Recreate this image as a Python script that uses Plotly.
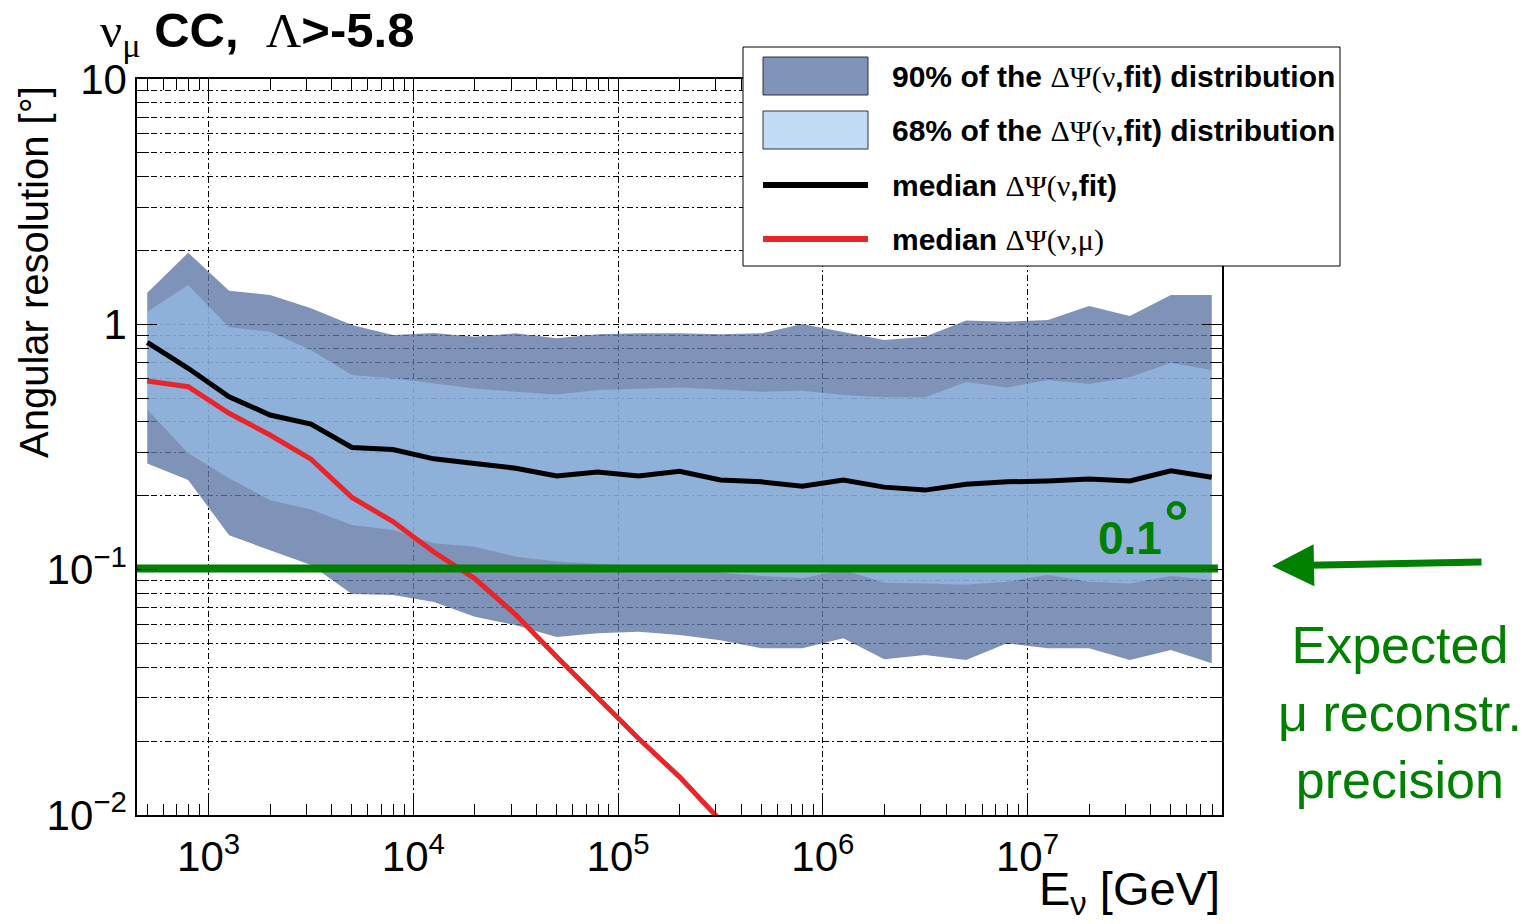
import plotly.graph_objects as go

# ---------------- data ----------------
log_energy = [2.7, 2.9, 3.1, 3.3, 3.5, 3.7, 3.9, 4.1, 4.3, 4.5, 4.7, 4.9, 5.1, 5.3,
              5.5, 5.7, 5.9, 6.1, 6.3, 6.5, 6.7, 6.9, 7.1, 7.3, 7.5, 7.7, 7.9]

upper90 = [1.345, 1.958, 1.371, 1.316, 1.162, 0.993, 0.905, 0.922, 0.890, 0.919, 0.877,
           0.911, 0.919, 0.919, 0.911, 0.919, 1.003, 0.933, 0.863, 0.890, 1.036, 1.025,
           1.041, 1.187, 1.081, 1.316, 1.316]
upper68 = [1.126, 1.446, 0.972, 0.933, 0.786, 0.621, 0.603, 0.576, 0.548, 0.531, 0.518,
           0.540, 0.548, 0.553, 0.543, 0.531, 0.536, 0.515, 0.504, 0.504, 0.582, 0.553,
           0.593, 0.571, 0.608, 0.697, 0.651]
median_fit = [0.845, 0.662, 0.507, 0.427, 0.392, 0.315, 0.309, 0.283, 0.271, 0.259, 0.241,
              0.250, 0.241, 0.252, 0.232, 0.228, 0.219, 0.232, 0.217, 0.211, 0.223, 0.228,
              0.230, 0.234, 0.230, 0.253, 0.238]
lower68 = [0.450, 0.298, 0.236, 0.192, 0.176, 0.152, 0.145, 0.128, 0.124, 0.113, 0.108,
           0.1054, 0.1034, 0.1015, 0.0971, 0.0942, 0.0922, 0.0996, 0.0884, 0.0879, 0.0869,
           0.0893, 0.0951, 0.0893, 0.0879, 0.0942, 0.0907]
lower90 = [0.271, 0.232, 0.138, 0.120, 0.1044, 0.0795, 0.0788, 0.0738, 0.0643, 0.0594,
           0.0532, 0.0550, 0.0558, 0.0541, 0.0516, 0.0478, 0.0478, 0.0525, 0.0431, 0.0449,
           0.0428, 0.0501, 0.0478, 0.0478, 0.0428, 0.0470, 0.0415]
median_mu = [0.587, 0.557, 0.434, 0.354, 0.282, 0.197, 0.157, 0.118, 0.092, 0.0655,
             0.0442, 0.0302, 0.0205, 0.0143, 0.0095]

precision_level = 0.101            # expected muon reconstruction precision [deg]
precision_span_log = [2.64, 7.93]  # horizontal extent of the green reference line

x_tick_vals = [1e3, 1e4, 1e5, 1e6, 1e7]
x_tick_text = ["10<sup>3</sup>", "10<sup>4</sup>", "10<sup>5</sup>", "10<sup>6</sup>", "10<sup>7</sup>"]
y_tick_vals = [0.01, 0.1, 1, 10]
y_tick_text = ["10<sup>\u22122</sup>", "10<sup>\u22121</sup>", "1", "10"]

legend_labels = [
    "<b>90% of the </b><span style=\"font-family:'Liberation Serif'\">\u0394\u03a8(\u03bd</span><b>,fit) distribution</b>",
    "<b>68% of the </b><span style=\"font-family:'Liberation Serif'\">\u0394\u03a8(\u03bd</span><b>,fit) distribution</b>",
    "<b>median </b><span style=\"font-family:'Liberation Serif'\">\u0394\u03a8(\u03bd</span><b>,fit)</b>",
    "<b>median </b><span style=\"font-family:'Liberation Serif'\">\u0394\u03a8(\u03bd,\u03bc)</span>",
]

# ---------------- styling ----------------
energy = [10 ** v for v in log_energy]
DARK = "rgba(95,120,166,0.8)"
LIGHT = "rgba(154,195,237,0.6)"
GREEN = "#008000"
RED = "#e8262a"
SANS = "Liberation Sans"
GRIDDASH = "6px,3px,2px,3px"

W, H = 1539, 924
L, R, T, B = 137, 1222, 79, 815


def px(xp):
    return (xp - L) / (R - L)


def py(yp):
    return (B - yp) / (B - T)


fig = go.Figure()
fig.add_trace(go.Scatter(x=energy, y=lower90, mode="lines", line=dict(width=0),
                         showlegend=False, hoverinfo="skip"))
fig.add_trace(go.Scatter(x=energy, y=upper90, mode="lines", line=dict(width=0),
                         fill="tonexty", fillcolor=DARK, showlegend=False))
fig.add_trace(go.Scatter(x=energy, y=lower68, mode="lines", line=dict(width=0),
                         showlegend=False, hoverinfo="skip"))
fig.add_trace(go.Scatter(x=energy, y=upper68, mode="lines", line=dict(width=0),
                         fill="tonexty", fillcolor=LIGHT, showlegend=False))
fig.add_trace(go.Scatter(x=energy, y=median_fit, mode="lines",
                         line=dict(color="black", width=5), showlegend=False))
fig.add_trace(go.Scatter(x=energy[:len(median_mu)], y=median_mu, mode="lines",
                         line=dict(color=RED, width=5), showlegend=False))
fig.add_trace(go.Scatter(x=[10 ** v for v in precision_span_log],
                         y=[precision_level, precision_level], mode="lines",
                         line=dict(color=GREEN, width=8), showlegend=False))

x_minor = [m * 10 ** d for d in range(2, 8) for m in range(2, 10)]
y_minor = [m * 10.0 ** d for d in (-2, -1, 0) for m in range(2, 10)]

fig.update_xaxes(
    type="log", range=[2.65, 7.95],
    tickvals=x_tick_vals, ticktext=x_tick_text,
    ticks="inside", ticklen=22, tickwidth=1, tickcolor="black",
    showline=True, linecolor="black", linewidth=1.5, mirror="ticks",
    showgrid=True, gridcolor="black", gridwidth=1, griddash=GRIDDASH,
    minor=dict(tickvals=x_minor, ticks="inside", ticklen=11, tickwidth=1,
               tickcolor="black", showgrid=False),
    tickfont=dict(family=SANS, size=42, color="black"),
    ticklabelstandoff=4, zeroline=False,
)
fig.update_yaxes(
    type="log", range=[-2, 1],
    tickvals=y_tick_vals, ticktext=y_tick_text,
    ticks="inside", ticklen=20, tickwidth=1, tickcolor="black",
    showline=True, linecolor="black", linewidth=1.5, mirror="ticks",
    showgrid=True, gridcolor="black", gridwidth=1, griddash=GRIDDASH,
    minor=dict(tickvals=y_minor, ticks="inside", ticklen=12, tickwidth=1,
               tickcolor="black", showgrid=True, gridcolor="black",
               gridwidth=1, griddash=GRIDDASH),
    tickfont=dict(family=SANS, size=42, color="black"),
    ticklabelstandoff=0, zeroline=False,
)

shapes = []
annotations = []

# legend box (layout decoration)
shapes.append(dict(type="rect", xref="paper", yref="paper",
                   x0=px(743), x1=px(1340), y0=py(266), y1=py(47),
                   fillcolor="white", line=dict(color="black", width=1), layer="above"))
shapes.append(dict(type="rect", xref="paper", yref="paper",
                   x0=px(763), x1=px(868), y0=py(95), y1=py(57),
                   fillcolor=DARK, line=dict(color="#333", width=1), layer="above"))
shapes.append(dict(type="rect", xref="paper", yref="paper",
                   x0=px(763), x1=px(868), y0=py(149), y1=py(111),
                   fillcolor=LIGHT, line=dict(color="#333", width=1), layer="above"))
shapes.append(dict(type="line", xref="paper", yref="paper",
                   x0=px(763), x1=px(868), y0=py(185), y1=py(185),
                   line=dict(color="black", width=6), layer="above"))
shapes.append(dict(type="line", xref="paper", yref="paper",
                   x0=px(763), x1=px(868), y0=py(239), y1=py(239),
                   line=dict(color=RED, width=6), layer="above"))
for lab, yc in zip(legend_labels, [77, 131, 186, 240]):
    annotations.append(dict(text=lab, xref="paper", yref="paper", x=px(890), y=py(yc),
                            xanchor="left", yanchor="middle", showarrow=False,
                            font=dict(family=SANS, size=30, color="black")))

# title
annotations.append(dict(
    text="<span style=\"font-family:'Liberation Serif'\">\u03bd<sub>\u03bc</sub></span>"
         " <b>CC,</b>  <span style=\"font-family:'Liberation Serif'\">\u039b</span><b>&gt;-5.8</b>",
    xref="paper", yref="paper", x=px(98), y=py(33), xanchor="left", yanchor="middle",
    showarrow=False, font=dict(family=SANS, size=49, color="black")))

# axis titles
annotations.append(dict(text="Angular resolution [\u00b0]", xref="paper", yref="paper",
                        x=px(34), y=py(272), textangle=-90, xanchor="center",
                        yanchor="middle", showarrow=False,
                        font=dict(family=SANS, size=40, color="black")))
annotations.append(dict(text="E<sub>\u03bd</sub> [GeV]", xref="paper", yref="paper",
                        x=1.0, y=py(892), xanchor="right", yanchor="middle",
                        showarrow=False, font=dict(family=SANS, size=47, color="black")))

# 0.1 degree label
annotations.append(dict(text="<b>0.1</b>", xref="paper", yref="paper",
                        x=px(1096), y=py(538), xanchor="left", yanchor="middle",
                        showarrow=False, font=dict(family=SANS, size=46, color=GREEN)))
annotations.append(dict(text="<b>\u00b0</b>", xref="paper", yref="paper",
                        x=px(1176), y=py(522), xanchor="center", yanchor="middle",
                        showarrow=False, font=dict(family=SANS, size=62, color=GREEN)))

# arrow and side text
annotations.append(dict(text="", xref="paper", yref="paper", x=px(1272), y=py(566),
                        ax=211, ay=-4, showarrow=True, arrowhead=2, arrowsize=1.2,
                        arrowwidth=7, arrowcolor=GREEN, standoff=0))
annotations.append(dict(text="Expected<br>\u03bc reconstr.<br>precision", xref="paper",
                        yref="paper", x=px(1400), y=py(712), xanchor="center",
                        yanchor="middle", showarrow=False, align="center",
                        font=dict(family=SANS, size=52, color=GREEN)))

fig.update_layout(
    width=W, height=H, autosize=False,
    margin=dict(l=L, r=W - R, t=T, b=H - B),
    paper_bgcolor="white", plot_bgcolor="white",
    showlegend=False,
    shapes=shapes, annotations=annotations,
)

fig.write_html("out.html")
